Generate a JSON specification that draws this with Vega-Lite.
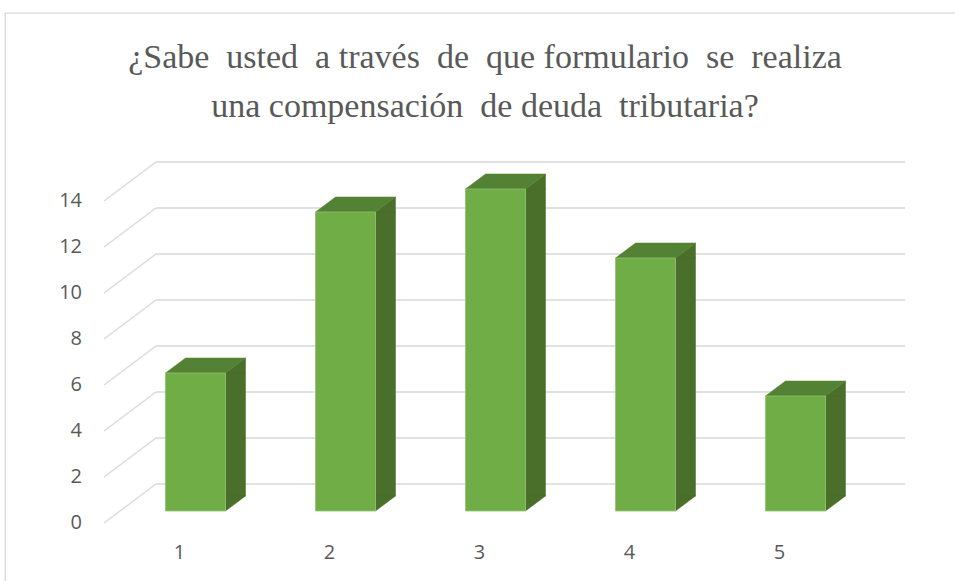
{
  "$schema": "https://vega.github.io/schema/vega-lite/v6.json",
  "width": 960,
  "height": 580,
  "autosize": {"type": "none"},
  "padding": {"left": 5, "top": 13, "right": 0, "bottom": 0},
  "background": "white",
  "config": {"view": {"stroke": "#D9D9D9", "strokeWidth": 1.3}},
  "datasets": {
    "bars": [
      {"cat": 1, "value": 6},
      {"cat": 2, "value": 13},
      {"cat": 3, "value": 14},
      {"cat": 4, "value": 11},
      {"cat": 5, "value": 5}
    ],
    "ticks": [
      {"tick": 0}, {"tick": 2}, {"tick": 4}, {"tick": 6},
      {"tick": 8}, {"tick": 10}, {"tick": 12}, {"tick": 14}
    ]
  },
  "title": {
    "text": ["¿Sabe\u00a0 usted\u00a0 a través\u00a0 de\u00a0 que formulario\u00a0 se\u00a0 realiza", "una compensación\u00a0 de deuda\u00a0 tributaria?"],
    "font": "Liberation Serif",
    "fontSize": 34,
    "fontWeight": "normal",
    "color": "#595959",
    "lineHeight": 49,
    "anchor": "middle",
    "baseline": "alphabetic",
    "offset": 0,
    "dy": 138
  },
  "layer": [
    {
      "data": {"name": "ticks"},
      "mark": {"type": "rule", "color": "#D9D9D9", "strokeWidth": 1.3, "xOffset": -52, "yOffset": 12, "y2Offset": -27},
      "encoding": {
        "x": {"datum": 0.7367, "type": "quantitative", "scale": {"domain": [-0.27, 6.13], "nice": false, "zero": false}, "axis": null},
        "x2": {"datum": 0.7367},
        "y": {"field": "tick", "type": "quantitative", "scale": {"domain": [-3.565, 21.652], "nice": false, "zero": false}, "axis": null},
        "y2": {"field": "tick"}
      }
    },
    {
      "data": {"name": "ticks"},
      "mark": {"type": "rule", "color": "#D9D9D9", "strokeWidth": 1.3, "yOffset": -27},
      "encoding": {
        "x": {"datum": 0.7367, "type": "quantitative", "scale": {"domain": [-0.27, 6.13], "nice": false, "zero": false}, "axis": null},
        "x2": {"datum": 5.73},
        "y": {"field": "tick", "type": "quantitative", "scale": {"domain": [-3.565, 21.652], "nice": false, "zero": false}, "axis": null}
      }
    },
    {
      "data": {"name": "ticks"},
      "mark": {"type": "text", "align": "right", "baseline": "middle", "xOffset": -74, "yOffset": 12, "font": "Open Sans", "fontSize": 20, "color": "#595959"},
      "encoding": {
        "x": {"datum": 0.7367, "type": "quantitative", "scale": {"domain": [-0.27, 6.13], "nice": false, "zero": false}, "axis": null},
        "y": {"field": "tick", "type": "quantitative", "scale": {"domain": [-3.565, 21.652], "nice": false, "zero": false}, "axis": null},
        "text": {"field": "tick", "type": "quantitative"}
      }
    },
    {
      "data": {"name": "bars"},
      "mark": {"type": "text", "align": "center", "baseline": "middle", "xOffset": -16, "yOffset": 42, "font": "Open Sans", "fontSize": 20, "color": "#595959"},
      "encoding": {
        "x": {"field": "cat", "type": "quantitative", "scale": {"domain": [-0.27, 6.13], "nice": false, "zero": false}, "axis": null},
        "y": {"datum": 0, "type": "quantitative", "scale": {"domain": [-3.565, 21.652], "nice": false, "zero": false}, "axis": null},
        "text": {"field": "cat", "type": "quantitative"}
      }
    },
    {
      "data": {"name": "bars"},
      "mark": {"type": "rect", "color": "#4A6F2B", "stroke": "#4A6F2B", "strokeWidth": 0.5, "xOffset": 30, "x2Offset": 50, "y2Offset": -15},
      "encoding": {
        "x": {"field": "cat", "type": "quantitative", "scale": {"domain": [-0.27, 6.13], "nice": false, "zero": false}, "axis": null},
        "x2": {"field": "cat"},
        "y": {"field": "value", "type": "quantitative", "scale": {"domain": [-3.565, 21.652], "nice": false, "zero": false}, "axis": null},
        "y2": {"datum": 0}
      }
    },
    {
      "data": {"name": "bars"},
      "mark": {"type": "point", "shape": "M 0.6 -0.3 L 0.6 0 L 1 -0.3 Z", "size": 10000, "filled": true, "opacity": 1, "color": "#4A6F2B", "stroke": "#4A6F2B", "strokeWidth": 0.5},
      "encoding": {
        "x": {"field": "cat", "type": "quantitative", "scale": {"domain": [-0.27, 6.13], "nice": false, "zero": false}, "axis": null},
        "y": {"datum": 0, "type": "quantitative", "scale": {"domain": [-3.565, 21.652], "nice": false, "zero": false}, "axis": null}
      }
    },
    {
      "data": {"name": "bars"},
      "mark": {"type": "point", "shape": "M 0.6 0 L 1 -0.3 L 1 0 Z", "size": 10000, "filled": true, "opacity": 1, "color": "#4A6F2B", "stroke": "#4A6F2B", "strokeWidth": 0.5},
      "encoding": {
        "x": {"field": "cat", "type": "quantitative", "scale": {"domain": [-0.27, 6.13], "nice": false, "zero": false}, "axis": null},
        "y": {"field": "value", "type": "quantitative", "scale": {"domain": [-3.565, 21.652], "nice": false, "zero": false}, "axis": null}
      }
    },
    {
      "data": {"name": "bars"},
      "mark": {"type": "point", "shape": "M -0.6 0 L 0.6 0 L 1 -0.3 L -0.2 -0.3 Z", "size": 10000, "filled": true, "opacity": 1, "color": "#548235", "stroke": "#548235", "strokeWidth": 0.5},
      "encoding": {
        "x": {"field": "cat", "type": "quantitative", "scale": {"domain": [-0.27, 6.13], "nice": false, "zero": false}, "axis": null},
        "y": {"field": "value", "type": "quantitative", "scale": {"domain": [-3.565, 21.652], "nice": false, "zero": false}, "axis": null}
      }
    },
    {
      "data": {"name": "bars"},
      "mark": {"type": "rect", "color": "#70AD47", "stroke": "#92C272", "strokeWidth": 0.8, "xOffset": -30, "x2Offset": 30},
      "encoding": {
        "x": {"field": "cat", "type": "quantitative", "scale": {"domain": [-0.27, 6.13], "nice": false, "zero": false}, "axis": null},
        "x2": {"field": "cat"},
        "y": {"field": "value", "type": "quantitative", "scale": {"domain": [-3.565, 21.652], "nice": false, "zero": false}, "axis": null},
        "y2": {"datum": 0}
      }
    }
  ]
}
